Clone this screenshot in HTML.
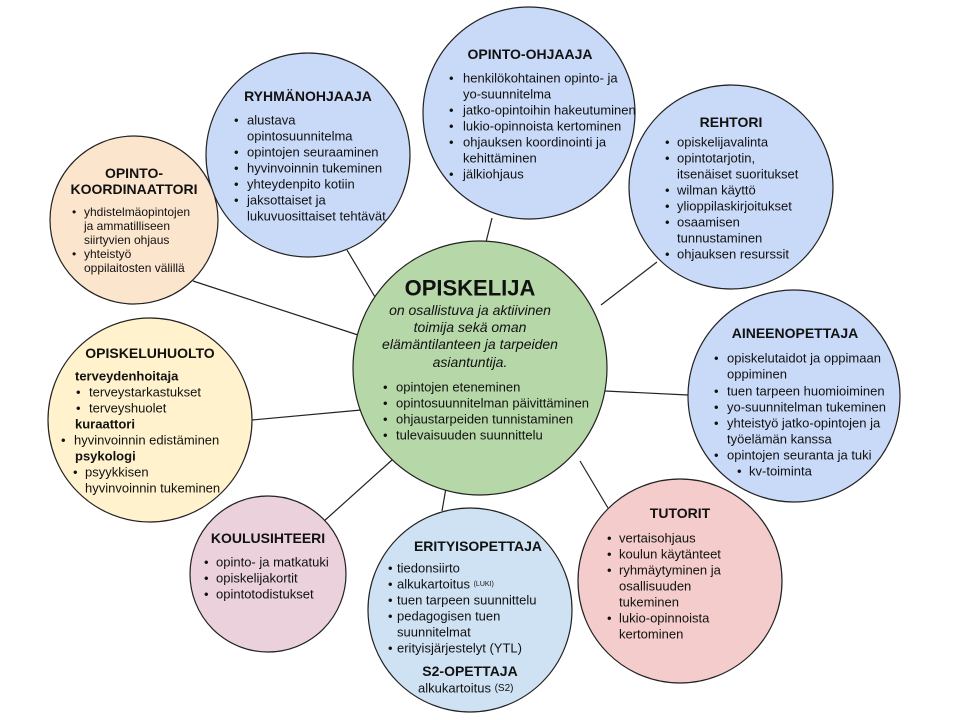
<!DOCTYPE html>
<html><head><meta charset="utf-8"><style>
body{margin:0;background:#fff}
svg{display:block}
text{font-family:"Liberation Sans",Arial,sans-serif;font-size:13px;fill:#111;dominant-baseline:central}
.t{font-weight:bold;font-size:14px;text-anchor:middle}
.b{font-weight:bold}
.s{font-size:12px}
</style></head><body>
<svg width="960" height="720" viewBox="0 0 960 720" xmlns="http://www.w3.org/2000/svg">
<g stroke="#222" stroke-width="1.2">
<line x1="347" y1="250" x2="375" y2="297"/>
<line x1="193" y1="281" x2="358" y2="335"/>
<line x1="492" y1="218" x2="486" y2="242"/>
<line x1="657" y1="262" x2="601" y2="305"/>
<line x1="252" y1="420" x2="361" y2="410"/>
<line x1="605" y1="391" x2="688" y2="395"/>
<line x1="323" y1="522" x2="392" y2="460"/>
<line x1="442" y1="511" x2="446" y2="488"/>
<line x1="580" y1="461" x2="608" y2="508"/>
</g>
<g stroke="#222" stroke-width="1.2">
<circle cx="308" cy="155" r="102" fill="#c9daf8"/>
<circle cx="134" cy="220" r="84" fill="#fce5cd"/>
<circle cx="529" cy="113" r="106" fill="#c9daf8"/>
<circle cx="731" cy="187" r="102" fill="#c9daf8"/>
<circle cx="794" cy="396" r="106" fill="#c9daf8"/>
<circle cx="680" cy="581" r="102" fill="#f4cccc"/>
<circle cx="268" cy="574" r="78" fill="#ead1dc"/>
<circle cx="150" cy="420" r="102" fill="#fff2cc"/>
<circle cx="470" cy="610" r="102" fill="#cfe2f3"/>
<circle cx="480" cy="368" r="127" fill="#b6d7a8"/>
</g>

<!-- Ryhmänohjaaja -->
<text class="t" x="308" y="96">RYHMÄNOHJAAJA</text>
<g>
<text x="234" y="120">•</text><text x="247" y="120">alustava</text>
<text x="247" y="136">opintosuunnitelma</text>
<text x="234" y="152">•</text><text x="247" y="152">opintojen seuraaminen</text>
<text x="234" y="168">•</text><text x="247" y="168">hyvinvoinnin tukeminen</text>
<text x="234" y="184">•</text><text x="247" y="184">yhteydenpito kotiin</text>
<text x="234" y="200">•</text><text x="247" y="200">jaksottaiset ja</text>
<text x="247" y="216">lukuvuosittaiset tehtävät</text>
</g>

<!-- Opinto-koordinaattori -->
<text class="t" x="134" y="173">OPINTO-</text>
<text class="t" x="134" y="189">KOORDINAATTORI</text>
<g class="s">
<text class="s" x="72" y="212">•</text><text class="s" x="84" y="212">yhdistelmäopintojen</text>
<text class="s" x="84" y="226">ja ammatilliseen</text>
<text class="s" x="84" y="240">siirtyvien ohjaus</text>
<text class="s" x="72" y="254">•</text><text class="s" x="84" y="254">yhteistyö</text>
<text class="s" x="84" y="268">oppilaitosten välillä</text>
</g>

<!-- Opinto-ohjaaja -->
<text class="t" x="530" y="54">OPINTO-OHJAAJA</text>
<text x="449" y="78">•</text><text x="463" y="78">henkilökohtainen opinto- ja</text>
<text x="463" y="94">yo-suunnitelma</text>
<text x="449" y="110">•</text><text x="463" y="110">jatko-opintoihin hakeutuminen</text>
<text x="449" y="126">•</text><text x="463" y="126">lukio-opinnoista kertominen</text>
<text x="449" y="142">•</text><text x="463" y="142">ohjauksen koordinointi ja</text>
<text x="463" y="158">kehittäminen</text>
<text x="449" y="174">•</text><text x="463" y="174">jälkiohjaus</text>

<!-- Rehtori -->
<text class="t" x="731" y="122">REHTORI</text>
<text x="665" y="142">•</text><text x="677" y="142">opiskelijavalinta</text>
<text x="665" y="158">•</text><text x="677" y="158">opintotarjotin,</text>
<text x="677" y="174">itsenäiset suoritukset</text>
<text x="665" y="190">•</text><text x="677" y="190">wilman käyttö</text>
<text x="665" y="206">•</text><text x="677" y="206">ylioppilaskirjoitukset</text>
<text x="665" y="222">•</text><text x="677" y="222">osaamisen</text>
<text x="677" y="238">tunnustaminen</text>
<text x="665" y="254">•</text><text x="677" y="254">ohjauksen resurssit</text>

<!-- Aineenopettaja -->
<text class="t" x="795" y="333">AINEENOPETTAJA</text>
<text x="714" y="358">•</text><text x="727" y="358">opiskelutaidot ja oppimaan</text>
<text x="727" y="374">oppiminen</text>
<text x="714" y="391">•</text><text x="727" y="391">tuen tarpeen huomioiminen</text>
<text x="714" y="407">•</text><text x="727" y="407">yo-suunnitelman tukeminen</text>
<text x="714" y="423">•</text><text x="727" y="423">yhteistyö jatko-opintojen ja</text>
<text x="727" y="439">työelämän kanssa</text>
<text x="714" y="455">•</text><text x="727" y="455">opintojen seuranta ja tuki</text>
<text x="737" y="471">•</text><text x="749" y="471">kv-toiminta</text>

<!-- Tutorit -->
<text class="t" x="680" y="513">TUTORIT</text>
<text x="607" y="538">•</text><text x="619" y="538">vertaisohjaus</text>
<text x="607" y="554">•</text><text x="619" y="554">koulun käytänteet</text>
<text x="607" y="570">•</text><text x="619" y="570">ryhmäytyminen ja</text>
<text x="619" y="586">osallisuuden</text>
<text x="619" y="602">tukeminen</text>
<text x="607" y="618">•</text><text x="619" y="618">lukio-opinnoista</text>
<text x="619" y="634">kertominen</text>

<!-- Koulusihteeri -->
<text class="t" x="268" y="538">KOULUSIHTEERI</text>
<text x="204" y="562">•</text><text x="216" y="562">opinto- ja matkatuki</text>
<text x="204" y="578">•</text><text x="216" y="578">opiskelijakortit</text>
<text x="204" y="594">•</text><text x="216" y="594">opintotodistukset</text>

<!-- Opiskeluhuolto -->
<text class="t" x="150" y="353">OPISKELUHUOLTO</text>
<text class="b" x="75" y="376">terveydenhoitaja</text>
<text x="76" y="392">•</text><text x="89" y="392">terveystarkastukset</text>
<text x="76" y="408">•</text><text x="89" y="408">terveyshuolet</text>
<text class="b" x="75" y="424">kuraattori</text>
<text x="61" y="440">•</text><text x="74" y="440">hyvinvoinnin edistäminen</text>
<text class="b" x="75" y="456">psykologi</text>
<text x="73" y="472">•</text><text x="85" y="472">psyykkisen</text>
<text x="85" y="488">hyvinvoinnin tukeminen</text>

<!-- Erityisopettaja -->
<text class="t" x="478" y="546">ERITYISOPETTAJA</text>
<text x="388" y="568">•</text><text x="397" y="568">tiedonsiirto</text>
<text x="388" y="584">•</text><text x="397" y="584">alkukartoitus <tspan style="font-size:7px">(LUKI)</tspan></text>
<text x="388" y="600">•</text><text x="397" y="600">tuen tarpeen suunnittelu</text>
<text x="388" y="616">•</text><text x="397" y="616">pedagogisen tuen</text>
<text x="397" y="632">suunnitelmat</text>
<text x="388" y="648">•</text><text x="397" y="648">erityisjärjestelyt (YTL)</text>
<text class="t" x="470" y="671">S2-OPETTAJA</text>
<text x="418" y="688">alkukartoitus <tspan style="font-size:10px">(S2)</tspan></text>

<!-- Center -->
<text class="t" x="470" y="288" style="font-size:22px">OPISKELIJA</text>
<g style="font-style:italic">
<text x="470" y="310" text-anchor="middle" style="font-style:italic;font-size:14px">on osallistuva ja aktiivinen</text>
<text x="470" y="327" text-anchor="middle" style="font-style:italic;font-size:14px">toimija sekä oman</text>
<text x="470" y="344" text-anchor="middle" style="font-style:italic;font-size:14px">elämäntilanteen ja tarpeiden</text>
<text x="470" y="362" text-anchor="middle" style="font-style:italic;font-size:14px">asiantuntija.</text>
</g>
<text x="383" y="387">•</text><text x="396" y="387">opintojen eteneminen</text>
<text x="383" y="403">•</text><text x="396" y="403">opintosuunnitelman päivittäminen</text>
<text x="383" y="419">•</text><text x="396" y="419">ohjaustarpeiden tunnistaminen</text>
<text x="383" y="435">•</text><text x="396" y="435">tulevaisuuden suunnittelu</text>
</svg>
</body></html>
